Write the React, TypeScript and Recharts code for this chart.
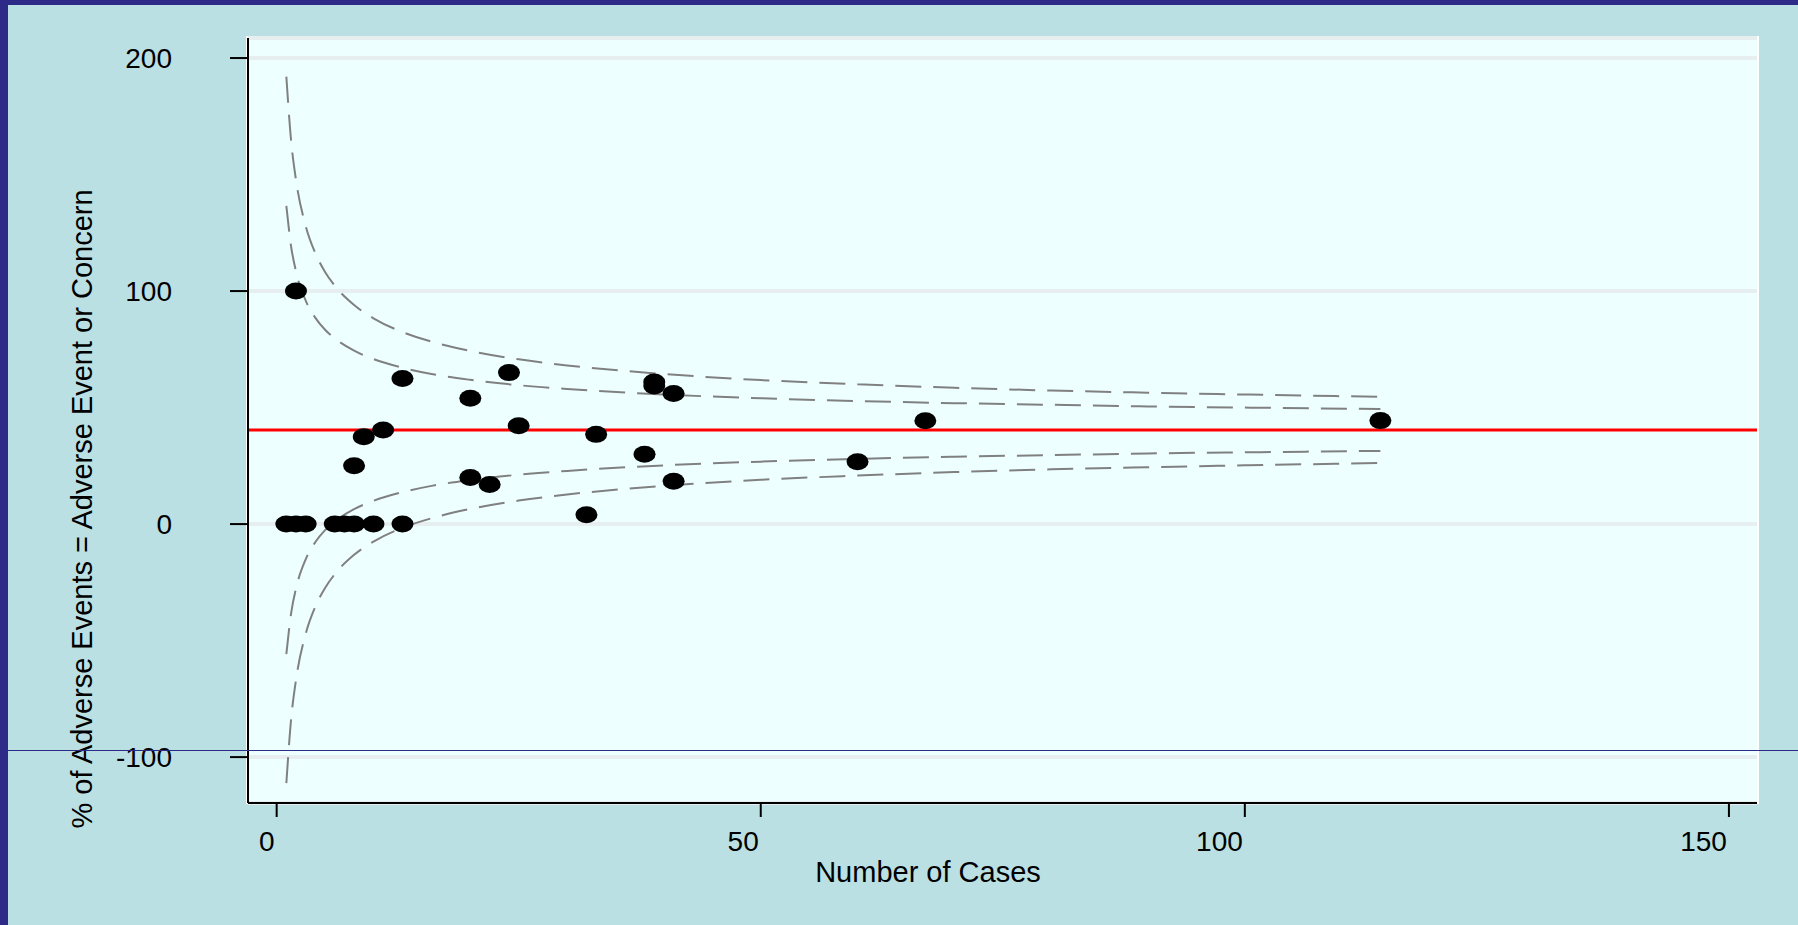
import { ComposedChart, Line, Scatter, XAxis, YAxis, CartesianGrid, ReferenceLine } from 'recharts'

// funnel limits (dashed lines)
const limitN     = [1, 1.5, 2, 3, 4, 5, 6, 8, 10, 13, 16, 20, 25, 30, 40, 50, 60, 70, 80, 90, 100, 114]
const upperOuter = [192.0, 164.2, 147.6, 127.9, 116.2, 108.2, 102.3, 94.0, 88.3, 82.4, 78.3, 74.3, 70.7, 68.1, 64.4, 61.8, 60.0, 58.5, 57.3, 56.4, 55.6, 54.6]
const upperInner = [136.6, 118.9, 108.4, 95.9, 88.5, 83.4, 79.7, 74.4, 70.8, 67.1, 64.4, 61.9, 59.6, 58.0, 55.6, 54.0, 52.8, 51.9, 51.2, 50.5, 50.0, 49.4]
const lowerInner = [-55.8, -38.1, -27.6, -15.1, -7.7, -2.6, 1.1, 6.4, 10.0, 13.7, 16.4, 18.9, 21.2, 22.8, 25.2, 26.8, 28.0, 28.9, 29.6, 30.3, 30.8, 31.4]
const lowerOuter = [-111.2, -83.4, -66.8, -47.1, -35.4, -27.4, -21.5, -13.2, -7.5, -1.6, 2.5, 6.5, 10.1, 12.7, 16.4, 19.0, 20.8, 22.3, 23.5, 24.4, 25.2, 26.2]

// observed units
const caseCounts = [1, 2, 3, 6, 7, 8, 10, 13, 2, 8, 9, 11, 13, 20, 20, 22, 24, 25, 32, 33, 38, 39, 39, 41, 41, 60, 67, 114]
const aePercent  = [0, 0, 0, 0, 0, 0, 0, 0, 100, 25, 37.5, 40.4, 62.5, 54, 20, 17, 65, 42.2, 4, 38.5, 30, 61, 59.3, 56, 18.4, 26.7, 44.3, 44.4]

const overallMean = 40.4

const xTicks = [0, 50, 100, 150]
const yTicks = [-100, 0, 100, 200]

const limitData = limitN.map((n, i) => ({
  n,
  uo: upperOuter[i],
  ui: upperInner[i],
  li: lowerInner[i],
  lo: lowerOuter[i],
}))
const points = caseCounts.map((n, i) => ({ n, pct: aePercent[i] }))

const FONT = '"Liberation Sans", Arial, Helvetica, sans-serif'
const NAVY = '#2e2a87'
const DASH = { stroke: '#808080', strokeWidth: 2, strokeDasharray: '26 12' }

const XTick = ({ x, y, payload }: any) => (
  <text x={x} y={y} dx={-2} dy="0.71em" textAnchor="end" fontSize={28} fontFamily={FONT} fill="#000">
    {payload.value}
  </text>
)

const YTick = ({ x, y, payload }: any) => (
  <text x={x} y={y} dy="0.355em" textAnchor="end" fontSize={28} fontFamily={FONT} fill="#000">
    {payload.value}
  </text>
)

const Dot = ({ cx, cy }: any) => <ellipse cx={cx} cy={cy} rx={11} ry={8.5} fill="#000" />

export default function App() {
  return (
    <div style={{ position: 'fixed', left: 0, top: 0, width: 1798, height: 925, background: '#bbe0e3', overflow: 'hidden' }}>
      <div style={{ position: 'absolute', left: 0, top: 0, width: 8, height: 925, background: NAVY }} />
      <div style={{ position: 'absolute', left: 0, top: 0, width: 1798, height: 5, background: NAVY }} />
      <div style={{ position: 'absolute', left: 246, top: 36, width: 1513, height: 768, background: '#ffffff' }} />
      <ComposedChart
        width={1798}
        height={925}
        data={limitData}
        margin={{ top: 38, right: 41, bottom: 0, left: 0 }}
        style={{ position: 'absolute', left: 0, top: 0 }}
      >
        <CartesianGrid vertical={false} fill="#eeffff" stroke="#e6eef0" strokeWidth={4} />
        <XAxis
          type="number"
          dataKey="n"
          domain={[-2.96, 152.9]}
          ticks={xTicks}
          allowDataOverflow
          height={122}
          axisLine={{ stroke: '#000', strokeWidth: 2 }}
          tickLine={{ stroke: '#000', strokeWidth: 2 }}
          tickSize={14}
          tickMargin={14}
          tick={<XTick />}
          label={() => (
            <text x={928} y={882} textAnchor="middle" fontSize={29} fontFamily={FONT} fill="#000">
              Number of Cases
            </text>
          )}
        />
        <YAxis
          type="number"
          domain={[-119.7, 208.6]}
          ticks={yTicks}
          allowDataOverflow
          width={248}
          axisLine={{ stroke: '#000', strokeWidth: 2 }}
          tickLine={{ stroke: '#000', strokeWidth: 2 }}
          tickSize={18}
          tickMargin={58}
          tick={<YTick />}
          label={() => (
            <text
              x={92}
              y={509}
              transform="rotate(-90 92 509)"
              textAnchor="middle"
              fontSize={29}
              fontFamily={FONT}
              fill="#000"
            >
              % of Adverse Events = Adverse Event or Concern
            </text>
          )}
        />
        <Line dataKey="uo" type="monotone" dot={false} activeDot={false} isAnimationActive={false} {...DASH} />
        <Line dataKey="ui" type="monotone" dot={false} activeDot={false} isAnimationActive={false} {...DASH} />
        <Line dataKey="li" type="monotone" dot={false} activeDot={false} isAnimationActive={false} {...DASH} />
        <Line dataKey="lo" type="monotone" dot={false} activeDot={false} isAnimationActive={false} {...DASH} />
        <ReferenceLine y={overallMean} stroke="#ff0000" strokeWidth={3} />
        <Scatter data={points} dataKey="pct" shape={<Dot />} isAnimationActive={false} />
      </ComposedChart>
      <div style={{ position: 'absolute', left: 8, top: 750, width: 1790, height: 1, background: NAVY }} />
    </div>
  )
}
